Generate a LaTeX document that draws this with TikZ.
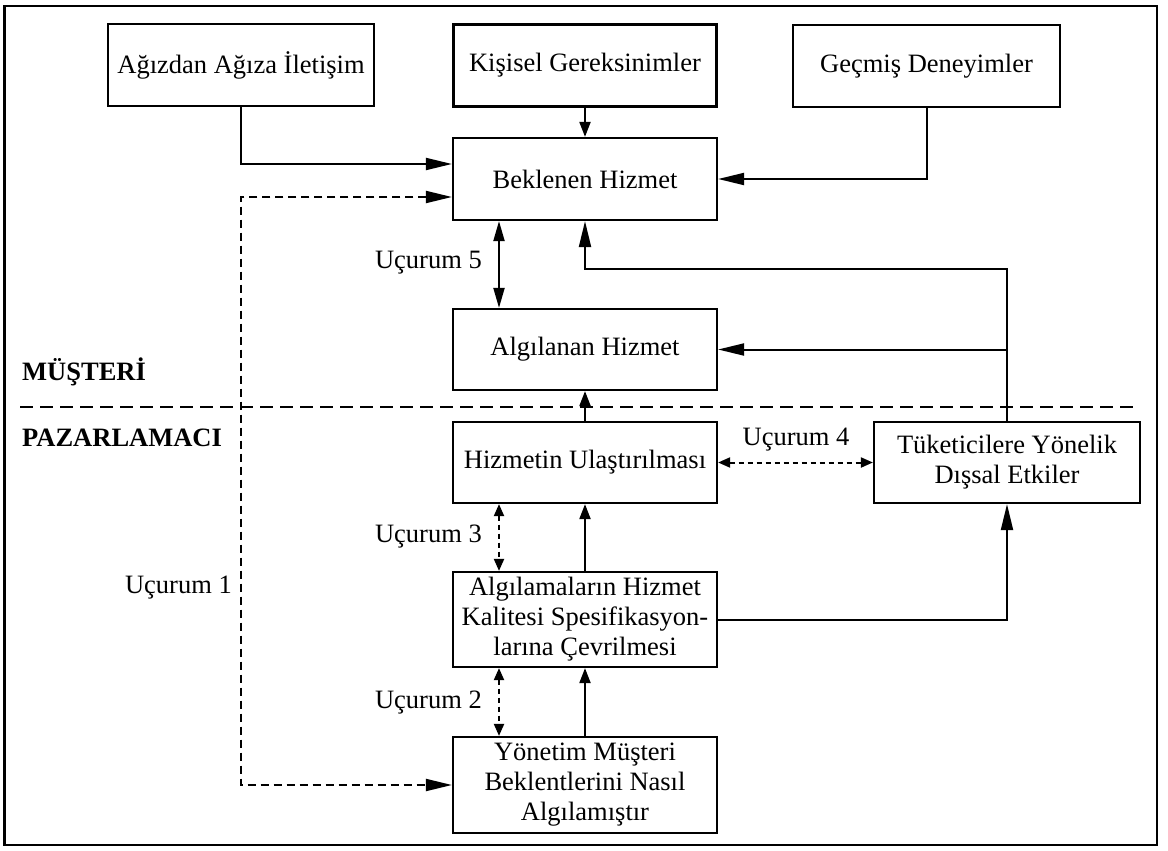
\documentclass[tikz,border=0pt]{standalone}
\usepackage{fontspec}
\setmainfont{Liberation Serif}
\usetikzlibrary{arrows.meta}
\begin{document}
\begin{tikzpicture}[x=1pt,y=-1pt,
  txt/.style={font=\fontsize{26.5}{30}\selectfont},
  boldtxt/.style={font=\fontsize{26.5}{30}\selectfont\bfseries},
  box/.style={txt,draw,line width=2.2pt,minimum width=264pt,minimum height=82pt,align=center,inner sep=2pt},
  lab/.style={txt,inner sep=0pt},
  conn/.style={line width=2pt},
  longdash/.style={line width=2pt,dash pattern=on 8pt off 5pt},
  shortdash/.style={line width=2pt,dash pattern=on 5pt off 4pt},
  sepline/.style={line width=2pt,dash pattern=on 13pt off 7pt},
  bighead/.style={-{Triangle[length=26pt,width=12pt]}},
  bigboth/.style={{Triangle[length=26pt,width=12pt]}-{Triangle[length=26pt,width=12pt]}},
  medhead/.style={-{Triangle[length=15pt,width=11pt]}},
  midboth/.style={{Triangle[length=20pt,width=11pt]}-{Triangle[length=20pt,width=11pt]}},
  smallboth/.style={{Triangle[length=12pt,width=10pt]}-{Triangle[length=12pt,width=10pt]}}
]
\useasboundingbox (0,0) rectangle (1168,851);

% outer frame
\draw[line width=2.5pt] (4.5,6) rectangle (1157,845);

% boxes
\node[box,minimum width=266pt] (agiz) at (241,65) {Ağızdan Ağıza İletişim};
\node[box,minimum width=263pt] (kis) at (585,65.5) {Kişisel Gereksinimler};
\node[box,minimum width=267pt] (gec) at (926.5,66) {Geçmiş Deneyimler};
\node[box] (bek) at (585,179) {Beklenen Hizmet};
\node[box,minimum height=81pt] (alg) at (585,349.5) {Algılanan Hizmet};
\node[box,minimum height=81pt] (hiz) at (585,462.5) {Hizmetin Ulaştırılması};
\node[box,minimum width=266pt,minimum height=81pt] (tuk) at (1007,462.5) {Tüketicilere Yönelik\\Dışsal Etkiler};
\node[box,minimum height=95pt] (cev) at (585,619.5) {Algılamaların Hizmet\\Kalitesi Spesifikasyon-\\larına Çevrilmesi};
\node[box,minimum height=96pt] (yon) at (585,785) {Yönetim Müşteri\\Beklentlerini Nasıl\\Algılamıştır};

% customer / marketer divider
\coordinate (sepL) at (20,407);
\coordinate (sepR) at (1140,407);
\draw[sepline] (sepL) -- (sepR);
\node[lab,boldtxt,anchor=west] (must) at (22,372) {MÜŞTERİ};
\node[lab,boldtxt,anchor=west] (paz) at (22,438) {PAZARLAMACI};

% inputs to expected service
\draw[conn,bighead] (agiz.south) |- ([yshift=15pt]bek.west);
\draw[conn,medhead] (kis.south) -- (bek.north);
\draw[conn,bighead] (gec.south) |- (bek.east);

% external communications feed back to expected and perceived service
\draw[conn,bighead] (tuk.north) -- ++(0,-152) -| (bek.south);
\draw[conn,bighead] (tuk.north |- alg.east) -- (alg.east);

% service chain
\draw[conn,medhead] (hiz.north) -- (alg.south);
\draw[conn,medhead] (cev.north) -- (hiz.south);
\draw[conn,medhead] (yon.north) -- (cev.south);
\draw[conn,bighead] (cev.east) -| (tuk.south);

% gaps
\draw[conn,midboth] ([xshift=-86pt]bek.south) -- ([xshift=-86pt]alg.north);
\node[lab,anchor=east] (g5) at (482,263) {Uçurum 5};

\draw[shortdash,smallboth] (hiz.east) -- (tuk.west);
\node[lab] (g4) at (796,440) {Uçurum 4};

\draw[shortdash,smallboth] ([xshift=-86pt]hiz.south) -- ([xshift=-86pt]cev.north);
\node[lab,anchor=east] (g3) at (482,537) {Uçurum 3};

\draw[shortdash,smallboth] ([xshift=-86pt]cev.south) -- ([xshift=-86pt]yon.north);
\node[lab,anchor=east] (g2) at (482,703) {Uçurum 2};

\coordinate (u1a) at (241,197);
\coordinate (u1b) at (241,785);
\draw[longdash,bigboth] ([yshift=-18pt]bek.west) -- (u1a) -- (u1b) -- (yon.west);
\node[lab,anchor=east] (g1) at (232,588) {Uçurum 1};
\end{tikzpicture}
\end{document}
